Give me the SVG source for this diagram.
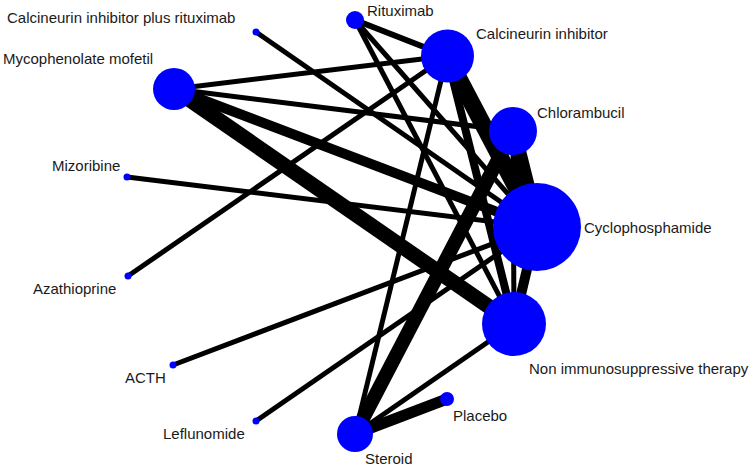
<svg xmlns="http://www.w3.org/2000/svg" width="752" height="470" viewBox="0 0 752 470">
<style>
.e{stroke:#000;stroke-linecap:butt;fill:none}
.n{fill:#0000ff}
.t{font-family:"Liberation Sans",Arial,sans-serif;font-size:15px;fill:#1a1a1a}
</style>
<rect width="752" height="470" fill="#fff"/>
<g id="edges">
<line class="e" x1="256" y1="32" x2="537" y2="227" stroke-width="5"/>
<line class="e" x1="174" y1="89" x2="447" y2="56" stroke-width="5"/>
<line class="e" x1="174" y1="89" x2="513" y2="131" stroke-width="5"/>
<line class="e" x1="174" y1="89" x2="537" y2="227" stroke-width="10"/>
<line class="e" x1="174" y1="89" x2="514" y2="324" stroke-width="15"/>
<line class="e" x1="127" y1="177" x2="537" y2="227" stroke-width="5"/>
<line class="e" x1="128" y1="276" x2="447" y2="56" stroke-width="5"/>
<line class="e" x1="173" y1="365" x2="537" y2="227" stroke-width="5"/>
<line class="e" x1="256" y1="421" x2="537" y2="227" stroke-width="5"/>
<line class="e" x1="355" y1="20" x2="447" y2="56" stroke-width="6"/>
<line class="e" x1="355" y1="20" x2="537" y2="227" stroke-width="5"/>
<line class="e" x1="355" y1="20" x2="514" y2="324" stroke-width="5"/>
<line class="e" x1="447" y1="56" x2="537" y2="227" stroke-width="17"/>
<line class="e" x1="447" y1="56" x2="514" y2="324" stroke-width="8"/>
<line class="e" x1="447" y1="56" x2="355" y2="434" stroke-width="5"/>
<line class="e" x1="513" y1="131" x2="537" y2="227" stroke-width="16"/>
<line class="e" x1="513" y1="131" x2="514" y2="324" stroke-width="5"/>
<line class="e" x1="513" y1="131" x2="355" y2="434" stroke-width="14"/>
<line class="e" x1="537" y1="227" x2="514" y2="324" stroke-width="10"/>
<line class="e" x1="355" y1="434" x2="514" y2="324" stroke-width="5"/>
<line class="e" x1="355" y1="434" x2="447" y2="399" stroke-width="11"/>
</g>
<g id="node-rituximab"><circle class="n" cx="355" cy="20" r="9"/><text class="t" x="367" y="15.5">Rituximab</text></g>
<g id="node-cni"><circle class="n" cx="447.5" cy="56" r="26.5"/><text class="t" x="476" y="39">Calcineurin inhibitor</text></g>
<g id="node-chlorambucil"><circle class="n" cx="513" cy="131" r="24"/><text class="t" x="537" y="118">Chlorambucil</text></g>
<g id="node-cyclophosphamide"><circle class="n" cx="537" cy="227" r="44"/><text class="t" x="584" y="232.5">Cyclophosphamide</text></g>
<g id="node-nit"><circle class="n" cx="514" cy="324" r="32"/><text class="t" x="529" y="373.5">Non immunosuppressive therapy</text></g>
<g id="node-placebo"><circle class="n" cx="447" cy="399" r="7"/><text class="t" x="453" y="421">Placebo</text></g>
<g id="node-steroid"><circle class="n" cx="355" cy="434" r="18"/><text class="t" x="365" y="464">Steroid</text></g>
<g id="node-leflunomide"><circle class="n" cx="256" cy="421" r="3.5"/><text class="t" x="163" y="439">Leflunomide</text></g>
<g id="node-acth"><circle class="n" cx="173" cy="365" r="3.5"/><text class="t" x="125" y="382.5">ACTH</text></g>
<g id="node-azathioprine"><circle class="n" cx="128" cy="276" r="3.5"/><text class="t" x="33" y="294">Azathioprine</text></g>
<g id="node-mizoribine"><circle class="n" cx="127" cy="177" r="3.5"/><text class="t" x="52" y="170.5">Mizoribine</text></g>
<g id="node-mmf"><circle class="n" cx="174" cy="89" r="21"/><text class="t" x="3" y="63.5">Mycophenolate mofetil</text></g>
<g id="node-cnir"><circle class="n" cx="256" cy="32" r="3.5"/><text class="t" x="7" y="22.5">Calcineurin inhibitor plus rituximab</text></g>
</svg>
